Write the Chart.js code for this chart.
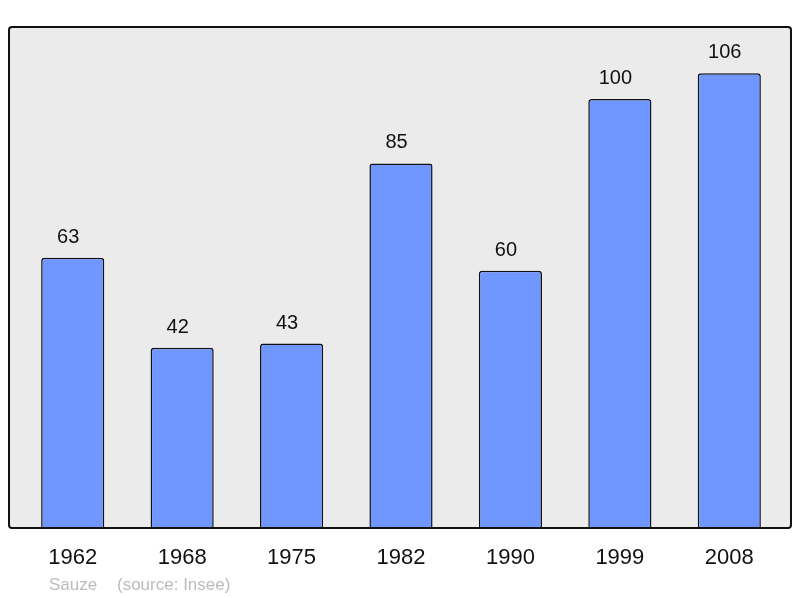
<!DOCTYPE html>
<html>
<head>
<meta charset="utf-8">
<script src="https://cdn.jsdelivr.net/npm/chart.js@4.4.1/dist/chart.umd.min.js"></script>
<style>
  html, body { margin: 0; padding: 0; background: #fff; }
  #wrap { width: 800px; height: 598px; }
</style>
</head>
<body>
<div id="wrap"><canvas id="chart" width="800" height="598"></canvas></div>
<script>
// données : population par recensement
const annees = ['1962', '1968', '1975', '1982', '1990', '1999', '2008'];
const population = [63, 42, 43, 85, 60, 100, 106];
const commune = 'Sauze';
const source = '(source: Insee)';

// fond gris + cadre noir autour de la zone du graphe
const cadre = {
  id: 'cadre',
  beforeDraw(chart) {
    const { ctx, chartArea: a } = chart;
    const x0 = 9, x1 = 791, y0 = a.top, y1 = a.bottom;
    ctx.save();
    ctx.beginPath();
    ctx.roundRect(x0, y0, x1 - x0, y1 - y0, 3);
    ctx.fillStyle = '#ebebeb';
    ctx.fill();
    ctx.restore();
  },
  afterDatasetsDraw(chart) {
    const { ctx, chartArea: a } = chart;
    const x0 = 9, x1 = 791, y0 = a.top, y1 = a.bottom;
    ctx.save();
    ctx.beginPath();
    ctx.roundRect(x0, y0, x1 - x0, y1 - y0, 3);
    ctx.lineWidth = 2;
    ctx.strokeStyle = '#111';
    ctx.stroke();
    ctx.restore();
  }
};

// valeurs au-dessus des barres + pied de page
const etiquettes = {
  id: 'etiquettes',
  afterDraw(chart) {
    const { ctx } = chart;
    const meta = chart.getDatasetMeta(0);
    ctx.save();
    ctx.font = '20px "Liberation Sans", Arial, sans-serif';
    ctx.fillStyle = '#111';
    ctx.textAlign = 'center';
    ctx.textBaseline = 'alphabetic';
    meta.data.forEach((bar, i) => {
      ctx.fillText(String(population[i]), bar.x - 4.5, bar.y - 15);
    });
    ctx.font = '17px "Liberation Sans", Arial, sans-serif';
    ctx.fillStyle = '#bbbbbb';
    ctx.textAlign = 'left';
    ctx.fillText(commune, 49, 590);
    ctx.fillText(source, 117, 590);
    ctx.restore();
  }
};

const ctx = document.getElementById('chart').getContext('2d');
new Chart(ctx, {
  type: 'bar',
  data: {
    labels: annees,
    datasets: [{
      data: population,
      backgroundColor: '#7097ff',
      borderColor: '#111',
      borderWidth: 1.5,
      borderRadius: 3,
      borderSkipped: 'bottom',
      barPercentage: 0.577,
      categoryPercentage: 1
    }]
  },
  options: {
    responsive: false,
    animation: false,
    layout: { padding: { left: 18, right: 16, top: 27, bottom: 0 } },
    plugins: { legend: { display: false }, tooltip: { enabled: false } },
    scales: {
      x: {
        grid: { display: false, drawTicks: false },
        border: { display: false },
        ticks: { color: '#111', font: { size: 22, family: '"Liberation Sans", Arial, sans-serif' }, padding: 17 },
        afterFit: (s) => { s.height = 70; }
      },
      y: {
        display: false,
        min: 0,
        max: 116.8
      }
    }
  },
  plugins: [cadre, etiquettes]
});
</script>
</body>
</html>
